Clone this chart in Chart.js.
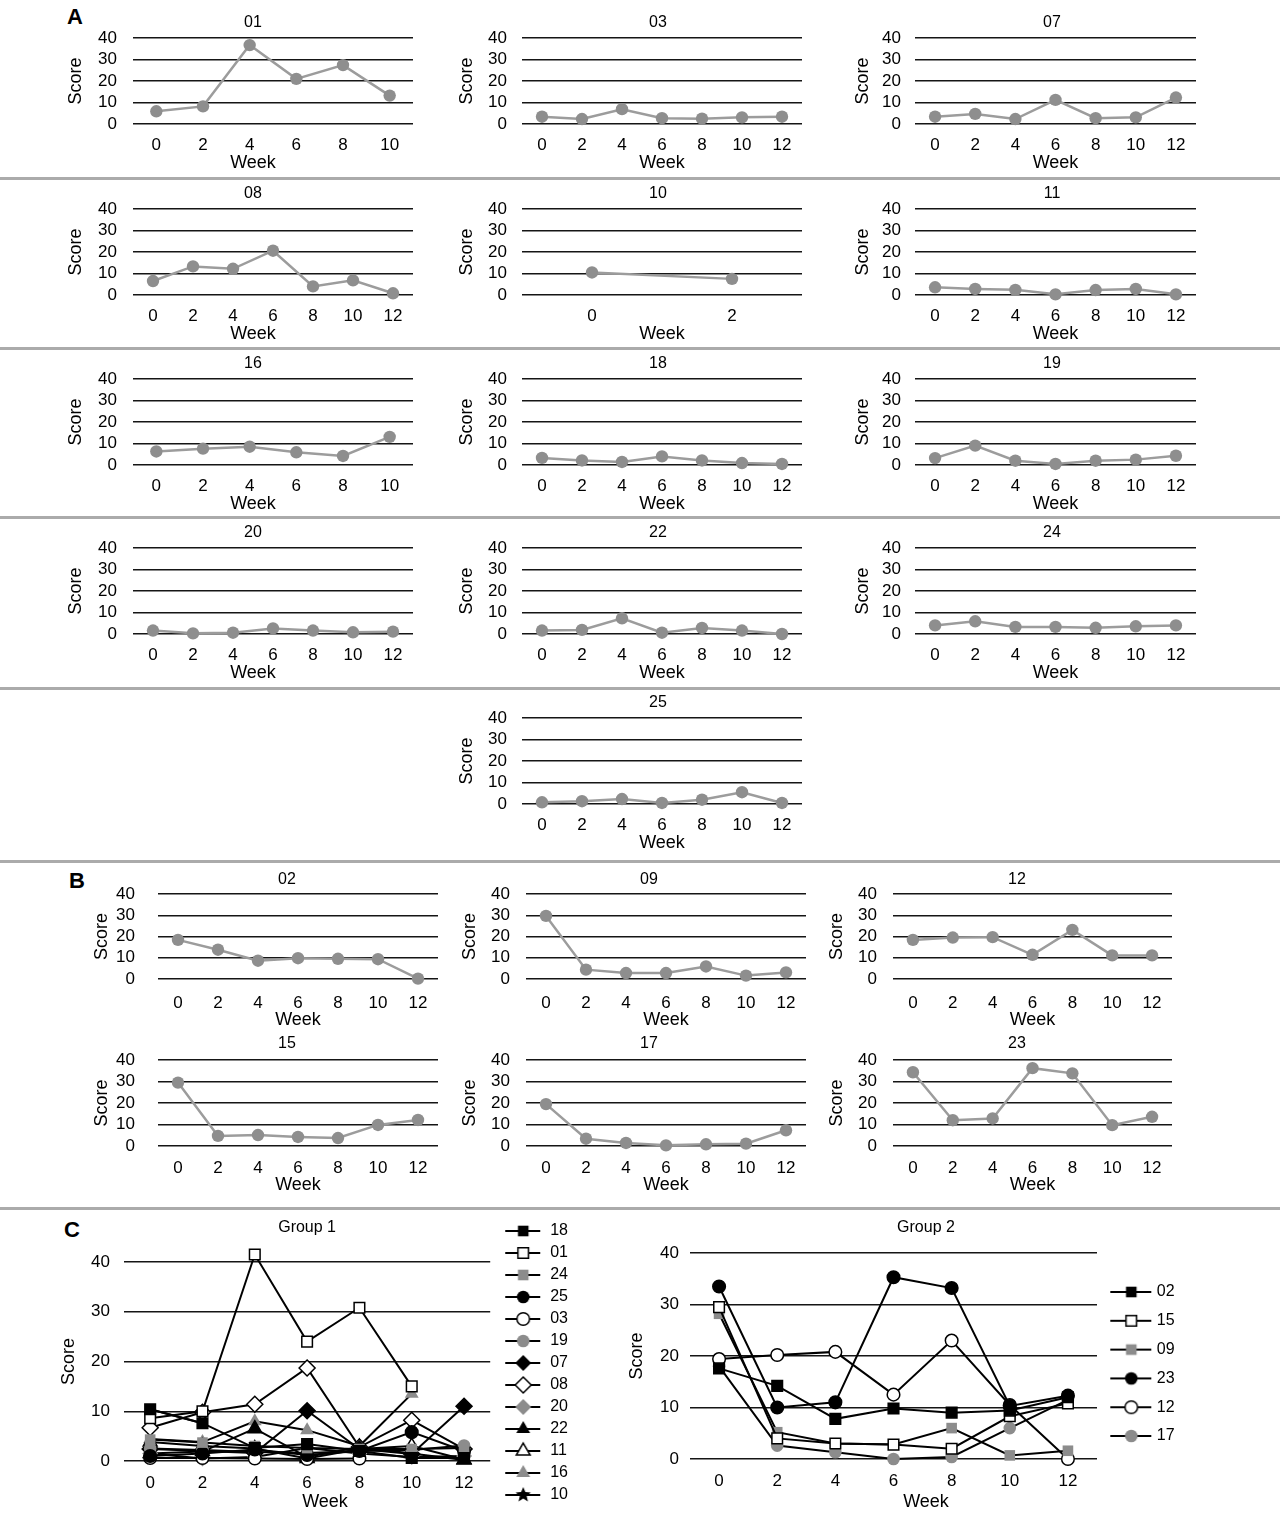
<!DOCTYPE html>
<html><head><meta charset="utf-8">
<script src="https://cdn.jsdelivr.net/npm/chart.js@4.4.1/dist/chart.umd.min.js"></script>
<style>
html,body{margin:0;padding:0;background:#fff;}
#page{position:relative;width:1284px;height:1513px;overflow:hidden;background:#fff;font-family:"Liberation Sans",Arial,Helvetica,sans-serif;}
.sep{position:absolute;left:0;width:1280px;height:3px;background:#ababab;}
.letter{position:absolute;font-weight:bold;font-size:22px;line-height:22px;color:#000;}
canvas{position:absolute;}
</style></head><body>
<div id="page">
  <div class="sep" style="top:177px"></div>
  <div class="sep" style="top:347px"></div>
  <div class="sep" style="top:516px"></div>
  <div class="sep" style="top:687px"></div>
  <div class="sep" style="top:860px"></div>
  <div class="sep" style="top:1207px"></div>
  <div class="letter" style="left:67px;top:6px">A</div>
  <div class="letter" style="left:69px;top:870px">B</div>
  <div class="letter" style="left:64px;top:1219px">C</div>
</div>
<script>
// ---------------- DATA ----------------
const weeks12 = ['0','2','4','6','8','10','12'];
const weeks10 = ['0','2','4','6','8','10'];
const weeks2 = ['0','2'];
const scoreMin = 0, scoreMax = 40, scoreStep = 10;

// Panel A (individual patients, group 1)
const s01 = [5.9, 8.2, 36.7, 21.0, 27.4, 13.2];
const s03 = [3.4, 2.3, 6.9, 2.7, 2.5, 3.1, 3.4];
const s07 = [3.4, 4.7, 2.3, 11.2, 2.7, 3.1, 12.3];
const s08 = [6.5, 13.3, 12.2, 20.6, 4.0, 6.8, 0.8];
const s10 = [10.5, 7.5];
const s11 = [3.6, 2.8, 2.4, 0.3, 2.3, 2.8, 0.3];
const s16 = [6.3, 7.6, 8.5, 5.9, 4.2, 13.1];
const s18 = [3.3, 2.1, 1.4, 4.0, 2.1, 0.9, 0.5];
const s19 = [3.2, 9.0, 2.0, 0.5, 2.0, 2.5, 4.3];
const s20 = [1.6, 0.3, 0.6, 2.6, 1.6, 0.8, 1.1];
const s22 = [1.6, 1.9, 7.3, 0.6, 2.8, 1.6, 0.0];
const s24 = [4.0, 5.9, 3.3, 3.3, 2.9, 3.6, 4.0];
const s25 = [0.8, 1.3, 2.3, 0.5, 2.0, 5.5, 0.5];

// Panel B (individual patients, group 2)
const s02 = [18.4, 13.8, 8.6, 9.8, 9.5, 9.3, 0.2];
const s09 = [29.7, 4.4, 2.8, 2.8, 5.9, 1.6, 3.1];
const s12 = [18.4, 19.5, 19.7, 11.4, 23.1, 11.1, 11.1];
const s15 = [29.5, 4.7, 5.1, 4.2, 3.7, 9.8, 12.1];
const s17 = [19.5, 3.4, 1.4, 0.3, 0.8, 1.1, 7.3];
const s23 = [34.3, 12.0, 12.8, 36.2, 33.8, 9.7, 13.6];

// Panel C, Group 1
const g1_18 = [10.4, 7.6, 2.6, 3.4, 2.0, 0.6, 0.6];
const g1_01 = [8.6, 10.0, 41.5, 24.0, 30.8, 15.0, null];
const g1_24 = [4.3, 3.7, 3.0, 2.6, 2.4, 2.4, 2.6];
const g1_25 = [1.0, 1.5, 2.3, 1.2, 2.0, 5.8, 2.0];
const g1_03 = [0.6, 0.6, 0.5, 0.4, 0.5, null, null];
const g1_19 = [2.5, 2.2, 1.8, 1.6, 2.0, 2.2, 3.1];
const g1_07 = [2.4, 2.0, 1.6, 10.1, 2.4, 1.4, 11.0];
const g1_08 = [6.7, 9.8, 11.4, 18.7, 2.8, 8.2, 2.4];
const g1_20 = [1.5, 0.5, 0.8, 2.6, 1.5, 0.8, 1.0];
const g1_22 = [1.5, 1.9, 6.5, 0.8, 2.8, 1.5, 0.2];
const g1_11 = [3.8, 3.0, 2.5, 0.5, 2.4, 3.0, 0.3];
const g1_16 = [4.4, 3.8, 8.0, 6.2, 3.0, 13.5, null];
const g1_10 = [10.4, 7.6, null, null, null, null, null];

// Panel C, Group 2
const g2_02 = [17.6, 14.2, 7.8, 9.8, 9.0, 9.4, 12.0];
const g2_15 = [29.5, 4.0, 3.0, 2.8, 2.0, 8.3, 10.8];
const g2_09 = [28.2, 5.2, 3.0, 2.8, 6.0, 0.7, 1.6];
const g2_23 = [33.5, 10.0, 11.0, 35.3, 33.2, 10.3, 12.3];
const g2_12 = [19.4, 20.2, 20.8, 12.5, 23.0, 10.5, 0.0];
const g2_17 = [18.0, 2.6, 1.3, 0.0, 0.4, 6.0, 11.5];

// ---------------- RENDER ----------------
Chart.defaults.font.family = '"Liberation Sans", Arial, Helvetica, sans-serif';
Chart.defaults.color = '#000';
Chart.defaults.animation = false;

const TICK = 17, AXT = 18, TTL = 16;
const GRAY_PT = '#8e8e8e', GRAY_LN = '#9c9c9c';
const FILL = {black:'#000', white:'#fff', gray:'#8c8c8c'};
const BORDER = {black:'#000', white:'#000', gray:'#8c8c8c'};
const RADIUS = {rect:7.5, circle:6.3, rectRot:8, triangle:8, star:8};

function makeCanvas(x, y, w, h) {
  const c = document.createElement('canvas');
  c.width = w; c.height = h;
  c.style.left = x + 'px'; c.style.top = y + 'px';
  c.style.width = w + 'px'; c.style.height = h + 'px';
  document.getElementById('page').appendChild(c);
  return c;
}

function drawMarker(ctx, shape, x, y, r, fill, stroke) {
  ctx.beginPath();
  if (shape === 'rect') { const s = r * Math.SQRT1_2; ctx.rect(x - s, y - s, 2 * s, 2 * s); }
  else if (shape === 'circle') { ctx.arc(x, y, r, 0, Math.PI * 2); }
  else if (shape === 'rectRot') { ctx.moveTo(x, y - r); ctx.lineTo(x + r, y); ctx.lineTo(x, y + r); ctx.lineTo(x - r, y); ctx.closePath(); }
  else if (shape === 'triangle') {
    for (let k = 0; k < 3; k++) { const a = k * 2 * Math.PI / 3; const px = x + Math.sin(a) * r, py = y - Math.cos(a) * r; k ? ctx.lineTo(px, py) : ctx.moveTo(px, py); }
    ctx.closePath();
  } else if (shape === 'star') {
    for (let k = 0; k < 10; k++) { const a = k * Math.PI / 5; const rr = k % 2 ? r * 0.45 : r; const px = x + Math.sin(a) * rr, py = y - Math.cos(a) * rr; k ? ctx.lineTo(px, py) : ctx.moveTo(px, py); }
    ctx.closePath();
  }
  ctx.fillStyle = fill; ctx.fill();
  if (stroke && stroke !== fill) { ctx.lineWidth = 1.5; ctx.strokeStyle = stroke; ctx.stroke(); }
}

function starImage(r) {
  const c = document.createElement('canvas');
  const s = Math.ceil(2 * r + 2);
  c.width = s; c.height = s;
  drawMarker(c.getContext('2d'), 'star', s / 2, s / 2 + 0.5, r, '#000', null);
  return c;
}

function legendImage(shape, tone, W, x1, x2, mx) {
  const c = document.createElement('canvas');
  c.width = W; c.height = 22;
  const ctx = c.getContext('2d');
  ctx.strokeStyle = '#000'; ctx.lineWidth = 2;
  ctx.beginPath(); ctx.moveTo(x1, 11); ctx.lineTo(x2, 11); ctx.stroke();
  drawMarker(ctx, shape, mx, 11, RADIUS[shape], FILL[tone], BORDER[tone]);
  return c;
}

function spacerAxis(weight, getW) {
  return { type: 'linear', position: 'right', weight, display: true,
           grid: { display: false, drawTicks: false }, border: { display: false },
           ticks: { display: false }, afterFit: s => { s.width = getW(); } };
}

function buildChart(g) {
  const canvas = makeCanvas(g.cx, g.cy, g.cw, g.ch);
  const lhT = TTL * 1.2, lhA = AXT * 1.0, lhK = TICK * 1.2;
  const titlePadTop = g.titleCY - g.cy - lhT / 2;
  const st = {
    yW: g.plotL - g.cx,
    xH: g.weekCY - lhA / 2 - g.plotB,
    gapR: g.legend ? Math.max(0, g.cx + g.cw - g.plotR - 88) : (g.cx + g.cw - g.plotR),
    tpb: (g.plotT - g.cy) - titlePadTop - lhT
  };
  const weekPadBot = g.cy + g.ch - g.weekCY - lhA / 2;
  const scales = {
    x: { type: 'category', offset: true, grid: { display: false, drawTicks: false }, border: { display: false },
         ticks: { font: { size: TICK }, color: '#000', padding: g.tickCY - g.plotB - lhK / 2,
                  autoSkip: false, maxRotation: 0, minRotation: 0 },
         afterFit: s => { s.height = st.xH; } },
    y: { type: 'linear', position: 'left', min: scoreMin, max: scoreMax, border: { display: false },
         grid: { color: '#151515', lineWidth: 1.4, drawTicks: true, tickLength: g.plotL - g.tickR, tickColor: 'rgba(0,0,0,0)' },
         ticks: { stepSize: scoreStep, autoSkip: false, font: { size: TICK }, color: '#000', padding: 0 },
         title: { display: true, text: 'Score', color: '#000', font: { size: AXT },
                  padding: { top: g.scoreCX - g.cx - AXT * 0.6, bottom: 0 } },
         afterFit: s => { s.width = st.yW; } },
    yr: spacerAxis(g.legend ? 2000 : 0, () => st.gapR)
  };
  const chart = new Chart(canvas, {
    type: 'line',
    data: { labels: g.labels, datasets: g.datasets },
    options: {
      responsive: false, animation: false, events: [], devicePixelRatio: 1,
      layout: { padding: 0 },
      plugins: {
        legend: g.legend || { display: false },
        tooltip: { enabled: false },
        title: { display: true, text: g.title, color: '#000', fullSize: !!g.titleFull,
                 font: { size: TTL, weight: 'normal' }, padding: { top: titlePadTop, bottom: st.tpb } },
        subtitle: { display: true, text: 'Week', position: 'bottom', color: '#000', fullSize: !!g.weekFull,
                    font: { size: AXT, weight: 'normal', lineHeight: 1.0 }, padding: { top: 0, bottom: weekPadBot } }
      },
      scales
    }
  });
  // settle the layout so the plot area sits where the reference has it
  for (let it = 0; it < 4; it++) {
    const ca = chart.chartArea;
    const dl = (g.plotL - g.cx) - ca.left, dt = (g.plotT - g.cy) - ca.top;
    const db = (g.plotB - g.cy) - ca.bottom, dr = (g.plotR - g.cx) - ca.right;
    if (Math.abs(dl) + Math.abs(dt) + Math.abs(db) + Math.abs(dr) < 0.3) break;
    st.yW += dl;
    st.tpb += dt;
    st.xH -= db;
    st.gapR = Math.max(0, st.gapR - dr);
    chart.options.plugins.title.padding = { top: titlePadTop, bottom: st.tpb };
    chart.update();
  }
  return chart;
}

function grayDataset(label, data) {
  return { label, data, yAxisID: 'y', borderColor: GRAY_LN, borderWidth: 2.5, pointRadius: 6.2, pointStyle: 'circle',
           pointBackgroundColor: GRAY_PT, pointBorderColor: GRAY_PT, pointBorderWidth: 0, tension: 0, clip: false };
}

// Panel A & B small multiples
const ROWS_A = [0, 171, 341, 510, 680];
const COLS_A = [
  { cx: 60,  cw: 386, plotL: 133, plotR: 413,  tickR: 117, scoreCX: 76,  titleFull: true,  weekFull: true },
  { cx: 452, cw: 412, plotL: 522, plotR: 802,  tickR: 507, scoreCX: 467, titleFull: true,  weekFull: false },
  { cx: 848, cw: 408, plotL: 915, plotR: 1196, tickR: 901, scoreCX: 863, titleFull: true,  weekFull: false }
];
const panelsA = [
  ['01', s01, weeks10, 0, 0], ['03', s03, weeks12, 0, 1], ['07', s07, weeks12, 0, 2],
  ['08', s08, weeks12, 1, 0], ['10', s10, weeks2, 1, 1],  ['11', s11, weeks12, 1, 2],
  ['16', s16, weeks10, 2, 0], ['18', s18, weeks12, 2, 1], ['19', s19, weeks12, 2, 2],
  ['20', s20, weeks12, 3, 0], ['22', s22, weeks12, 3, 1], ['24', s24, weeks12, 3, 2],
  ['25', s25, weeks12, 4, 1]
];
panelsA.forEach(([id, data, labels, r, c]) => {
  const o = ROWS_A[r], col = COLS_A[c];
  buildChart(Object.assign({}, col, {
    cy: 5 + o, ch: 171, plotT: 38 + o, plotB: 124 + o, titleCY: 23 + o, tickCY: 145 + o, weekCY: 163 + o,
    labels, title: id, datasets: [grayDataset(id, data)]
  }));
});

const ROWS_B = [
  { cy: 864,  ch: 169, plotT: 894,  plotB: 979,  titleCY: 880,  tickCY: 1003, weekCY: 1020 },
  { cy: 1028, ch: 170, plotT: 1060, plotB: 1146, titleCY: 1044, tickCY: 1168, weekCY: 1185 }
];
const COLS_B = [
  { cx: 88,  cw: 398, plotL: 158, plotR: 438,  tickR: 135, scoreCX: 102, titleFull: true, weekFull: false },
  { cx: 455, cw: 388, plotL: 526, plotR: 806,  tickR: 510, scoreCX: 470, titleFull: true, weekFull: false },
  { cx: 822, cw: 390, plotL: 893, plotR: 1172, tickR: 877, scoreCX: 837, titleFull: true, weekFull: false }
];
const panelsB = [
  ['02', s02, 0, 0], ['09', s09, 0, 1], ['12', s12, 0, 2],
  ['15', s15, 1, 0], ['17', s17, 1, 1], ['23', s23, 1, 2]
];
panelsB.forEach(([id, data, r, c]) => {
  buildChart(Object.assign({}, COLS_B[c], ROWS_B[r], { labels: weeks12, title: id, datasets: [grayDataset(id, data)] }));
});

// Panel C
const chartStar = starImage(5.5);
function groupDataset(label, data, shape, tone, img) {
  return {
    label, data, yAxisID: 'y', borderColor: '#000', borderWidth: 2, tension: 0, clip: false,
    pointStyle: shape === 'star' ? chartStar : shape,
    pointRadius: RADIUS[shape], pointBackgroundColor: FILL[tone], pointBorderColor: BORDER[tone],
    pointBorderWidth: tone === 'gray' ? 0 : 1.5, legendImg: img
  };
}
function legendOpts(align, padding, boxW) {
  return {
    display: true, position: 'right', align, fullSize: true,
    labels: {
      usePointStyle: true, pointStyleWidth: boxW, padding, color: '#000', font: { size: 16 },
      generateLabels: chart => chart.data.datasets.map((ds, i) => ({
        text: ds.label, pointStyle: ds.legendImg, fillStyle: 'rgba(0,0,0,0)', strokeStyle: 'rgba(0,0,0,0)',
        lineWidth: 0, hidden: false, datasetIndex: i, fontColor: '#000'
      }))
    }
  };
}

const g1Series = [
  ['18', g1_18, 'rect', 'black'], ['01', g1_01, 'rect', 'white'], ['24', g1_24, 'rect', 'gray'],
  ['25', g1_25, 'circle', 'black'], ['03', g1_03, 'circle', 'white'], ['19', g1_19, 'circle', 'gray'],
  ['07', g1_07, 'rectRot', 'black'], ['08', g1_08, 'rectRot', 'white'], ['20', g1_20, 'rectRot', 'gray'],
  ['22', g1_22, 'triangle', 'black'], ['11', g1_11, 'triangle', 'white'], ['16', g1_16, 'triangle', 'gray'],
  ['10', g1_10, 'star', 'black']
];
buildChart({
  cx: 20, cy: 1217, cw: 610, ch: 310,
  plotL: 124, plotR: 490, plotT: 1262, plotB: 1461, tickR: 110, scoreCX: 69,
  titleCY: 1228, tickCY: 1483, weekCY: 1502, titleFull: false, weekFull: true,
  labels: weeks12, title: 'Group 1',
  datasets: g1Series.map(([id, d, sh, t]) => groupDataset(id, d, sh, t, legendImage(sh, t, 60, 16, 51, 34))),
  legend: legendOpts('start', 6, 46)
});

const g2Series = [
  ['02', g2_02, 'rect', 'black'], ['15', g2_15, 'rect', 'white'], ['09', g2_09, 'rect', 'gray'],
  ['23', g2_23, 'circle', 'black'], ['12', g2_12, 'circle', 'white'], ['17', g2_17, 'circle', 'gray']
];
buildChart({
  cx: 590, cy: 1215, cw: 672, ch: 298,
  plotL: 690, plotR: 1097, plotT: 1253, plotB: 1459, tickR: 679, scoreCX: 637,
  titleCY: 1228, tickCY: 1481, weekCY: 1502, titleFull: true, weekFull: true,
  labels: weeks12, title: 'Group 2',
  datasets: g2Series.map(([id, d, sh, t]) => groupDataset(id, d, sh, t, legendImage(sh, t, 50, 6, 47, 27))),
  legend: legendOpts('center', 12.8, 39)
});
</script>
</body></html>
